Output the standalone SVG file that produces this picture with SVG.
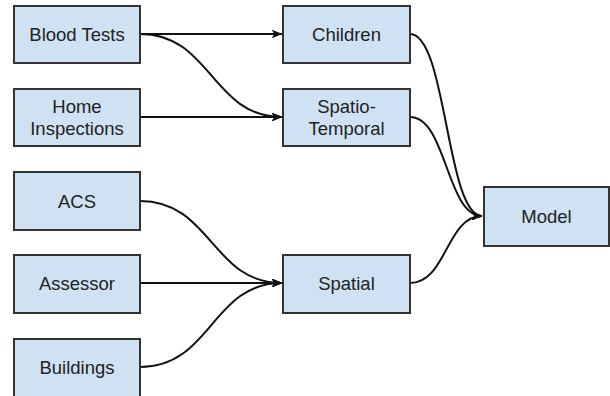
<svg xmlns="http://www.w3.org/2000/svg" width="610" height="396" viewBox="0 0 610 396">
<style>
.box{fill:#cfe2f3;stroke:#333;stroke-width:2}
.lbl{font-family:"Liberation Sans",Arial,sans-serif;font-size:18.5px;fill:#222;text-anchor:middle}
.edge{fill:none;stroke:#111;stroke-width:2;marker-end:url(#arr)}
</style>
<defs>
<marker id="arr" viewBox="0 0 10 8" refX="9.5" refY="4" markerWidth="5.5" markerHeight="4.4" orient="auto" markerUnits="strokeWidth">
<path d="M0,0 L10,4 L0,8 L2.5,4 z" fill="#111"/>
</marker>
</defs>
<g id="connectors">
<path class="edge" d="M140,34 L282,34"/>
<path class="edge" d="M140,34 C211.5,34 211.5,117 282,117"/>
<path class="edge" d="M140,117 L282,117"/>
<path class="edge" d="M140,201 C211.5,201 211.5,283 282,283"/>
<path class="edge" d="M140,283 L282,283"/>
<path class="edge" d="M140,367 C211.5,367 211.5,283 282,283"/>
<path class="edge" d="M410,34 C446.5,34 446.5,216 482,216"/>
<path class="edge" d="M410,117 C446.5,117 446.5,216 482,216"/>
<path class="edge" d="M410,283 C446.5,283 446.5,216 482,216"/>
</g>
<g id="blood-tests"><rect class="box" x="14" y="6" width="126" height="57"/><text class="lbl" x="77" y="41">Blood Tests</text></g>
<g id="home-inspections"><rect class="box" x="14" y="89" width="126" height="57"/><text class="lbl" x="77" y="113">Home</text><text class="lbl" x="77" y="135">Inspections</text></g>
<g id="acs"><rect class="box" x="14" y="172" width="126" height="58"/><text class="lbl" x="77" y="208">ACS</text></g>
<g id="assessor"><rect class="box" x="14" y="255" width="126" height="58"/><text class="lbl" x="77" y="290">Assessor</text></g>
<g id="buildings"><rect class="box" x="14" y="339" width="126" height="58"/><text class="lbl" x="77" y="374">Buildings</text></g>
<g id="children"><rect class="box" x="283" y="6" width="127" height="57"/><text class="lbl" x="346.5" y="41">Children</text></g>
<g id="spatio-temporal"><rect class="box" x="283" y="89" width="127" height="57"/><text class="lbl" x="346.5" y="113">Spatio-</text><text class="lbl" x="346.5" y="135">Temporal</text></g>
<g id="spatial"><rect class="box" x="283" y="255" width="127" height="58"/><text class="lbl" x="346.5" y="290">Spatial</text></g>
<g id="model"><rect class="box" x="484" y="187" width="125" height="59"/><text class="lbl" x="546.5" y="223">Model</text></g>
</svg>
